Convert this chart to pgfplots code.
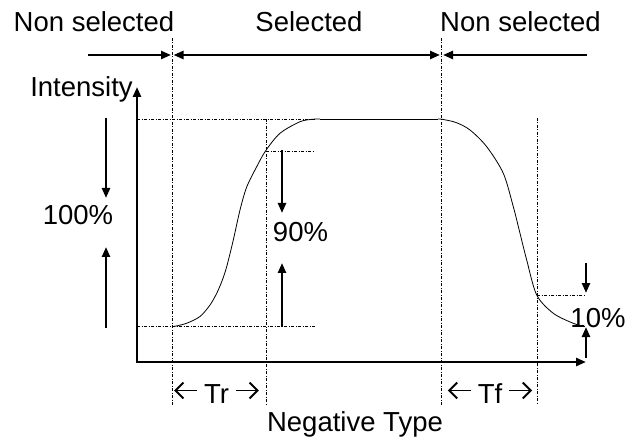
\documentclass[border=0pt]{standalone}
\usepackage{fontspec}
\setmainfont{Liberation Sans}
\usepackage{pgfplots}
\pgfplotsset{compat=1.18}
\usetikzlibrary{arrows.meta}
\tikzset{lbl/.style={font=\fontsize{27.5pt}{33pt}\selectfont, inner sep=0pt, anchor=base}}
\newcommand{\la}{\tikz[baseline=0pt]\draw[black, solid, line width=1.9pt, line cap=butt, {Straight Barb[length=8pt,width=16pt,line width=1.9pt]}-] (0pt,12.5pt) -- (23pt,12.5pt);}
\newcommand{\ra}{\tikz[baseline=0pt]\draw[black, solid, line width=1.9pt, line cap=butt, -{Straight Barb[length=8pt,width=16pt,line width=1.9pt]}] (0pt,12.5pt) -- (23pt,12.5pt);}
\begin{document}
\begin{tikzpicture}
\begin{axis}[
  scale only axis, width=638pt, height=441pt,
  xmin=0, xmax=638, ymin=0, ymax=441, y dir=reverse,
  hide axis, clip=false,
  dd/.style={black, line width=0.7pt, dash pattern=on 3pt off 1.5pt on 1pt off 1.5pt},
  ar/.style={black, line width=2.4pt, -{Triangle[length=10pt,width=8pt]}},
]
\draw[draw=none] (rel axis cs:0,0) rectangle (rel axis cs:1,1);
% dashed guide lines
\addplot[dd] coordinates {(172,38) (172,405)};
\addplot[dd] coordinates {(441.5,38) (441.5,405)};
\addplot[dd] coordinates {(266,119) (266,405)};
\addplot[dd] coordinates {(537,118) (537,405)};
\addplot[dd] coordinates {(137,119) (315,119)};
\addplot[dd] coordinates {(266,151) (315,151)};
\addplot[dd] coordinates {(137,326.5) (315,326.5)};
\addplot[dd] coordinates {(537,295) (586,295)};
% response curve
\addplot[black, line width=0.8pt, smooth, tension=0.5] coordinates {
 (172.7,326.7) (186,323.5) (200,316.5) (210,305) (216.7,293.3) (222,281)
 (226.7,266.7) (233.3,240) (240,210) (246.7,187) (256.7,166.7) (265.7,150.7)
 (280,133.3) (300,121.7) (313.3,119.2) (320,119)};
\addplot[black, line width=0.8pt] coordinates {(320,119) (438,119)};
\addplot[black, line width=0.8pt, smooth, tension=0.5] coordinates {
 (438,119) (441.7,119.2) (456,122.5) (470,130) (486.7,146.7) (503.3,173.3) (513.3,206.7)
 (520,233.3) (526.7,260) (536.7,295) (553.3,313.3) (573.3,323.3) (585,326.7)};
% axes
\addplot[black, line width=2.6pt, {Triangle[length=10pt,width=8pt]}-{Triangle[length=10pt,width=8pt]}]
  coordinates {(137,87) (137,362) (586,362)};
% header arrows
\addplot[ar] coordinates {(88,55) (171,55)};
\addplot[black, line width=2.4pt, {Triangle[length=10pt,width=8pt]}-{Triangle[length=10pt,width=8pt]}]
  coordinates {(173.5,55) (440,55)};
\addplot[ar] coordinates {(587,55) (443,55)};
% measure arrows
\addplot[ar] coordinates {(106,118) (106,198)};
\addplot[ar] coordinates {(106,328) (106,247)};
\addplot[ar] coordinates {(282,150) (282,213)};
\addplot[ar] coordinates {(282,327) (282,263)};
\addplot[ar] coordinates {(586,263) (586,293)};
\addplot[ar] coordinates {(586,358) (586,327)};
% texts
\node[lbl] at (axis cs:94,32) {Non selected};
\node[lbl] at (axis cs:309,32) {Selected};
\node[lbl] at (axis cs:520.5,32) {Non selected};
\node[lbl] at (axis cs:81.5,97) {Intensity};
\node[lbl] at (axis cs:78,225) {100\%};
\node[lbl] at (axis cs:300.5,242) {90\%};
\node[lbl] at (axis cs:598,327) {10\%};
\node[lbl] at (axis cs:216.5,403) {\la\hspace{6pt}Tr\hspace{6pt}\ra};
\node[lbl] at (axis cs:490,403) {\la\hspace{6pt}Tf\hspace{6pt}\ra};
\node[lbl] at (axis cs:355,431) {Negative Type};
\end{axis}
\end{tikzpicture}
\end{document}
